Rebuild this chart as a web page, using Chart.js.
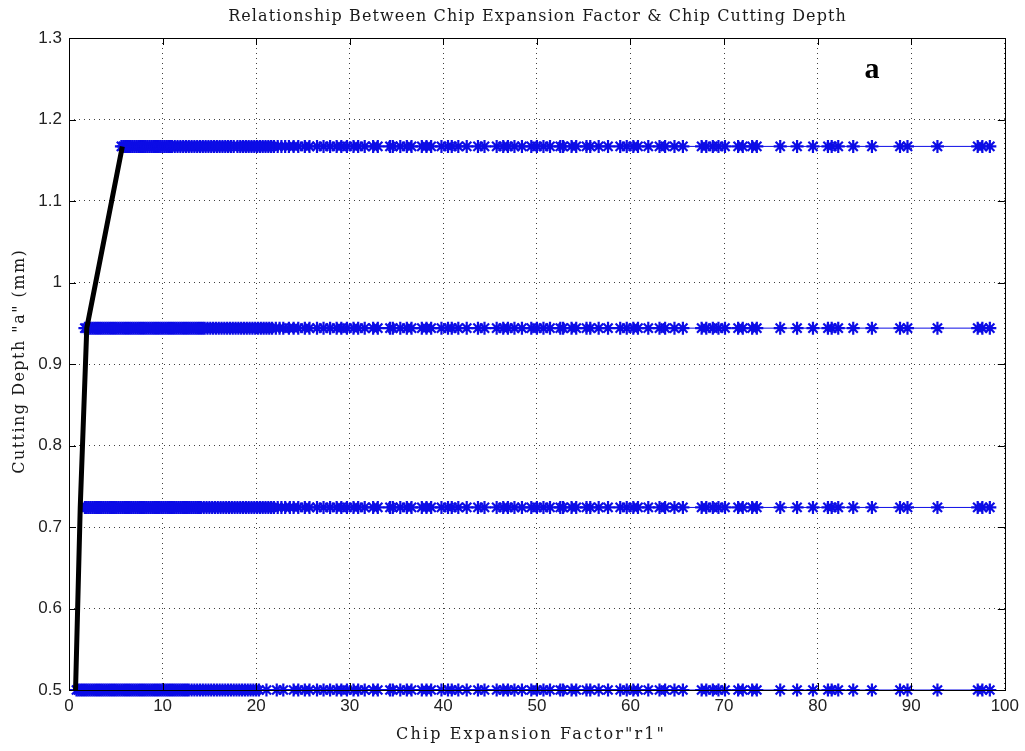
<!DOCTYPE html>
<html>
<head>
<meta charset="utf-8">
<script src="https://cdn.jsdelivr.net/npm/chart.js@4.4.0/dist/chart.umd.min.js"></script>
<style>
html, body { margin: 0; padding: 0; background: #fff; }
</style>
</head>
<body>
<canvas id="chart" width="1025" height="751"></canvas>
<script>
// cutting depth levels (mm)
const depthLevels = [0.5, 0.724, 0.944, 1.167];

// dense part of each row
const r1Dense050 = [0.8, 1.0, 1.2, 1.4, 1.6, 1.8, 2.0, 2.2, 2.4, 2.6, 2.8, 3.0, 3.2, 3.4, 3.6, 3.8, 4.0, 4.2, 4.4, 4.6, 4.8, 5.0, 5.2, 5.4, 5.6, 5.8, 6.0, 6.2, 6.4, 6.6, 6.8, 7.0, 7.2, 7.4, 7.6, 7.8, 8.0, 8.2, 8.4, 8.6, 8.8, 9.0, 9.2, 9.4, 9.6, 9.8, 10.0, 10.2, 10.4, 10.6, 10.8, 11.0, 11.2, 11.4, 11.6, 11.8, 12.0, 12.2, 12.4, 12.6, 12.8,
    13.1, 13.4, 13.7, 14.0, 14.3, 14.6, 14.9, 15.2, 15.5, 15.8, 16.1, 16.4, 16.7, 17.0, 17.3, 17.6, 17.9, 18.2, 18.5, 18.8, 19.1, 19.4, 19.7, 20.0, 20.3, 21.1, 22.2, 22.9];
const r1Dense072 = [1.7, 1.9, 2.1, 2.3, 2.5, 2.7, 2.9, 3.1, 3.3, 3.5, 3.7, 3.9, 4.1, 4.3, 4.5, 4.7, 4.9, 5.1, 5.3, 5.5, 5.7, 5.9, 6.1, 6.3, 6.5, 6.7, 6.9, 7.1, 7.3, 7.5, 7.7, 7.9, 8.1, 8.3, 8.5, 8.7, 8.9, 9.1, 9.3, 9.5, 9.7, 9.9, 10.1, 10.3, 10.5, 10.7, 10.9, 11.1, 11.3, 11.5, 11.7, 11.9, 12.1, 12.3, 12.5, 12.7, 12.9, 13.1, 13.3, 13.5, 13.7, 13.9, 14.1,
    14.4, 14.7, 15.0, 15.3, 15.6, 15.9, 16.2, 16.5, 16.8, 17.1, 17.4, 17.7, 18.0, 18.3, 18.6, 18.9, 19.2, 19.5, 19.8, 20.1, 20.4, 20.7, 21.0, 21.3, 21.6, 21.9, 22.3, 22.7, 23.1, 23.6];
const r1Dense094 = [1.7, 1.9, 2.1, 2.3, 2.5, 2.7, 2.9, 3.1, 3.3, 3.5, 3.7, 3.9, 4.1, 4.3, 4.5, 4.7, 4.9, 5.1, 5.3, 5.5, 5.7, 5.9, 6.1, 6.3, 6.5, 6.7, 6.9, 7.1, 7.3, 7.5, 7.7, 7.9, 8.1, 8.3, 8.5, 8.7, 8.9, 9.1, 9.3, 9.5, 9.7, 9.9, 10.1, 10.3, 10.5, 10.7, 10.9, 11.1, 11.3, 11.5, 11.7, 11.9, 12.1, 12.3, 12.5, 12.7, 12.9, 13.1, 13.3, 13.5, 13.7, 13.9, 14.1, 14.3, 14.5,
    14.8, 15.1, 15.4, 15.7, 16.0, 16.3, 16.6, 16.9, 17.2, 17.5, 17.8, 18.1, 18.4, 18.7, 19.0, 19.3, 19.6, 19.9, 20.2, 20.5, 20.8, 21.1, 21.4, 21.7, 22.1, 22.5, 22.9, 23.5];
const r1Dense117 = [5.6, 5.8, 6.0, 6.2, 6.4, 6.6, 6.8, 7.0, 7.2, 7.4, 7.6, 7.8, 8.0, 8.2, 8.4, 8.6, 8.8, 9.0, 9.2, 9.4, 9.6, 9.8, 10.0, 10.2, 10.4, 10.6, 10.8, 11.0,
    11.3, 11.6, 11.9, 12.2, 12.5, 12.8, 13.1, 13.4, 13.7, 14.0, 14.3, 14.6, 14.9, 15.2, 15.5, 15.8, 16.1, 16.4, 16.7, 17.0, 17.3, 17.6, 18.0,
    18.3, 18.6, 18.9, 19.2, 19.5, 19.8, 20.1, 20.4, 20.7, 21.0, 21.3, 21.6, 21.9, 22.3, 22.7, 23.1, 23.5];

// sparse part, same r1 values in every row
const r1Sparse = [24.0, 24.5, 25.2, 25.7, 26.5, 27.2, 27.9, 28.6, 29.1, 29.7, 30.4, 30.9, 31.6, 32.5, 33.0, 34.3, 34.6, 35.4, 36.1, 36.6, 37.7, 38.2, 38.7, 39.8, 40.5, 40.9, 41.6, 42.5, 43.7, 44.4, 45.7, 46.4, 46.9, 47.6, 48.4, 49.4, 50.0, 50.7, 51.4, 52.5, 52.8, 53.7, 54.2, 55.3, 55.7, 56.6, 57.6, 58.9, 59.6, 60.3, 60.8, 61.9, 63.1, 63.7, 64.7, 65.6, 67.6, 68.1, 68.8, 69.4, 70.1, 71.5, 72.0, 73.0, 73.5, 76.0, 77.8, 79.5, 81.1, 81.5, 82.2, 83.8, 85.8, 88.8, 89.6, 92.8, 97.1, 97.6, 98.4];

// black boundary line
const lineR1 = [0.7, 1.2, 1.9, 5.7];
const lineDepth = [0.5, 0.724, 0.944, 1.167];

const xTicks = [0, 10, 20, 30, 40, 50, 60, 70, 80, 90, 100];
const yTicks = [0.5, 0.6, 0.7, 0.8, 0.9, 1.0, 1.1, 1.2, 1.3];

const denseRows = [r1Dense050, r1Dense072, r1Dense094, r1Dense117];
const blue = '#0c0ce6';

function rowData(dense, level) {
    return dense.concat(r1Sparse).map(function (x) { return { x: x, y: level }; });
}

var datasets = [{
    data: lineR1.map(function (x, i) { return { x: x, y: lineDepth[i] }; }),
    borderColor: '#000',
    borderWidth: 5,
    pointRadius: 0,
    showLine: true,
    order: 0,
    clip: false
}];
denseRows.forEach(function (dense, i) {
    datasets.push({
        data: rowData(dense, depthLevels[i]),
        borderColor: blue,
        backgroundColor: blue,
        borderWidth: 1,
        pointStyle: 'star',
        pointRadius: 6.5,
        pointBorderWidth: 2.2,
        pointBorderColor: blue,
        showLine: true,
        order: 1,
        clip: false
    });
});

// draw text stretched with letter spacing to a target width
function spacedText(ctx, text, x, y, width) {
    ctx.letterSpacing = '0px';
    var w = ctx.measureText(text).width;
    var s = (width - w) / text.length;
    ctx.letterSpacing = s.toFixed(2) + 'px';
    ctx.fillText(text, x + s / 2, y);
}

// frame, inward ticks and texts
const decorations = {
    id: 'decorations',
    afterDraw: function (chart) {
        var ctx = chart.ctx, a = chart.chartArea;
        var xs = chart.scales.x, ys = chart.scales.y;
        ctx.save();
        ctx.strokeStyle = '#000';
        ctx.lineWidth = 1;
        ctx.strokeRect(Math.round(a.left) + 0.5, Math.round(a.top) + 0.5, Math.round(a.width), Math.round(a.height));
        ctx.beginPath();
        xTicks.forEach(function (v) {
            var p = Math.round(xs.getPixelForValue(v)) + 0.5;
            ctx.moveTo(p, a.bottom); ctx.lineTo(p, a.bottom - 7);
            ctx.moveTo(p, a.top); ctx.lineTo(p, a.top + 7);
        });
        yTicks.forEach(function (v) {
            var p = Math.round(ys.getPixelForValue(v)) + 0.5;
            ctx.moveTo(a.left, p); ctx.lineTo(a.left + 7, p);
            ctx.moveTo(a.right, p); ctx.lineTo(a.right - 7, p);
        });
        ctx.stroke();

        ctx.fillStyle = '#1a1a1a';
        ctx.font = '16px "DejaVu Serif"';
        ctx.textAlign = 'center';
        ctx.textBaseline = 'middle';
        spacedText(ctx, 'Relationship Between Chip Expansion Factor & Chip Cutting Depth', 537, 17, 619);
        spacedText(ctx, 'Chip Expansion Factor"r1"', 530, 735, 270);
        ctx.save();
        ctx.translate(20, 362);
        ctx.rotate(-Math.PI / 2);
        spacedText(ctx, 'Cutting Depth "a" (mm)', 0, 0, 225);
        ctx.restore();

        ctx.letterSpacing = '0px';
        ctx.fillStyle = '#000';
        ctx.font = 'bold 30px "Liberation Serif"';
        ctx.fillText('a', 872, 70);
        ctx.restore();
    }
};

new Chart(document.getElementById('chart'), {
    type: 'scatter',
    data: { datasets: datasets },
    options: {
        responsive: false,
        animation: false,
        events: [],
        layout: { padding: { top: 38, right: 20, left: 0, bottom: 0 } },
        plugins: { legend: { display: false }, tooltip: { enabled: false } },
        scales: {
            x: {
                type: 'linear',
                min: 0, max: 100,
                afterFit: function (s) { s.height = 61; },
                afterBuildTicks: function (s) { s.ticks = xTicks.map(function (v) { return { value: v }; }); },
                ticks: { color: '#222', padding: 6, font: { family: '"Liberation Sans"', size: 17 } },
                grid: { color: 'rgba(0,0,0,0.75)', drawTicks: false, lineWidth: 1 },
                border: { display: false, dash: [1, 4] }
            },
            y: {
                type: 'linear',
                min: 0.5, max: 1.3,
                afterFit: function (s) { s.width = 69; },
                afterBuildTicks: function (s) { s.ticks = yTicks.map(function (v) { return { value: v }; }); },
                ticks: {
                    color: '#222', padding: 7, font: { family: '"Liberation Sans"', size: 17 },
                    callback: function (v) { return String(Number(v.toFixed(1))); }
                },
                grid: { color: 'rgba(0,0,0,0.75)', drawTicks: false, lineWidth: 1 },
                border: { display: false, dash: [1, 4] }
            }
        }
    },
    plugins: [decorations]
});
</script>
</body>
</html>
